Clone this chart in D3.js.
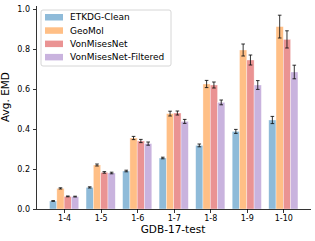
<!DOCTYPE html>
<html lang="en">
<head>
<meta charset="UTF-8">
<title>Avg. EMD</title>
<script src="https://cdnjs.cloudflare.com/ajax/libs/d3/7.8.5/d3.min.js"></script>
<style>
    body {
        margin: 0;
        background: white;
        font-family: "DejaVu Sans", sans-serif;
    }
    .axis path,
    .axis line {
        stroke: #000;
        stroke-width: 0.8px;
        shape-rendering: crispEdges;
    }
    .axis text {
        font-size: 8px;
        font-family: "DejaVu Sans", sans-serif;
        fill: #000;
    }
</style>
</head>
<body>
<script>
    // data
    var groups = ["1-4", "1-5", "1-6", "1-7", "1-8", "1-9", "1-10"];
    var methods = ["ETKDG-Clean", "GeoMol", "VonMisesNet", "VonMisesNet-Filtered"];
    var colors = ["#8fbbd9", "#ffbf86", "#ea9393", "#c9b3de"];

    var etkdg = [0.040, 0.108, 0.190, 0.255, 0.318, 0.388, 0.445];
    var geomol = [0.103, 0.220, 0.355, 0.477, 0.625, 0.795, 0.912];
    var vonmises = [0.063, 0.183, 0.340, 0.480, 0.620, 0.745, 0.848];
    var filtered = [0.062, 0.180, 0.327, 0.438, 0.533, 0.620, 0.685];

    var etkdgErr = [0.002, 0.003, 0.004, 0.004, 0.007, 0.010, 0.018];
    var geomolErr = [0.003, 0.005, 0.008, 0.012, 0.018, 0.030, 0.057];
    var vonmisesErr = [0.002, 0.004, 0.008, 0.010, 0.015, 0.025, 0.043];
    var filteredErr = [0.002, 0.004, 0.008, 0.010, 0.012, 0.022, 0.034];

    var yTicks = [0.0, 0.2, 0.4, 0.6, 0.8, 1.0];

    var series = [etkdg, geomol, vonmises, filtered];
    var errs = [etkdgErr, geomolErr, vonmisesErr, filteredErr];

    var W = 315, H = 241;
    var margin = {top: 5, right: 5, bottom: 32, left: 36};
    var width = W - margin.left - margin.right,
        height = H - margin.top - margin.bottom;

    var x = d3.scaleLinear().domain([-0.77, 6.73]).range([0, width]);
    var y = d3.scaleLinear().domain([0, 1.02]).range([height, 0]);
    var barW = 0.2;

    var svg = d3.select("body").append("svg")
        .attr("width", W)
        .attr("height", H)
        .append("g")
        .attr("transform", "translate(" + margin.left + "," + margin.top + ")");

    var rows = [];
    series.forEach(function(s, k) {
        s.forEach(function(v, i) {
            rows.push({g: i, k: k, v: v, e: errs[k][i]});
        });
    });

    // bars
    svg.selectAll(".bar")
        .data(rows)
        .enter().append("rect")
        .attr("class", "bar")
        .attr("x", function(d) { return x(d.g + (d.k - 2) * barW); })
        .attr("width", x(barW) - x(0))
        .attr("y", function(d) { return y(d.v); })
        .attr("height", function(d) { return y(0) - y(d.v); })
        .style("fill", function(d) { return colors[d.k]; })
        .style("stroke", "white")
        .style("stroke-opacity", 0.6)
        .style("stroke-width", 0.6);

    // error bars
    var cap = 1.8;
    var eb = svg.selectAll(".err")
        .data(rows)
        .enter().append("g")
        .attr("class", "err")
        .style("stroke", "#111")
        .style("stroke-opacity", 0.85)
        .style("stroke-width", 1);
    function cx(d) { return x(d.g + (d.k - 1.5) * barW); }
    eb.append("line")
        .attr("x1", cx).attr("x2", cx)
        .attr("y1", function(d) { return y(d.v - d.e); })
        .attr("y2", function(d) { return y(d.v + d.e); });
    eb.append("line")
        .attr("x1", function(d) { return cx(d) - cap; })
        .attr("x2", function(d) { return cx(d) + cap; })
        .attr("y1", function(d) { return y(d.v + d.e); })
        .attr("y2", function(d) { return y(d.v + d.e); });
    eb.append("line")
        .attr("x1", function(d) { return cx(d) - cap; })
        .attr("x2", function(d) { return cx(d) + cap; })
        .attr("y1", function(d) { return y(d.v - d.e); })
        .attr("y2", function(d) { return y(d.v - d.e); });

    // axes
    var xAxis = d3.axisBottom(x)
        .tickValues(d3.range(groups.length))
        .tickFormat(function(i) { return groups[i]; })
        .tickSize(3.5).tickPadding(2.5).tickSizeOuter(0);
    var yAxis = d3.axisLeft(y)
        .tickValues(yTicks)
        .tickFormat(d3.format(".1f"))
        .tickSize(3.5).tickPadding(2.5).tickSizeOuter(0);

    svg.append("g")
        .attr("class", "x axis")
        .attr("transform", "translate(0," + height + ")")
        .call(xAxis);
    svg.append("g")
        .attr("class", "y axis")
        .call(yAxis);

    svg.append("text")
        .attr("x", width / 2)
        .attr("y", height + 24)
        .attr("text-anchor", "middle")
        .style("font-size", "10.5px")
        .text("GDB-17-test");

    svg.append("text")
        .attr("transform", "rotate(-90)")
        .attr("x", -92)
        .attr("y", -27)
        .attr("text-anchor", "middle")
        .style("font-size", "10.5px")
        .text("Avg. EMD");

    // legend
    var lg = svg.append("g").attr("transform", "translate(5,5)");
    lg.append("rect")
        .attr("width", 130)
        .attr("height", 56)
        .attr("rx", 2)
        .style("fill", "white")
        .style("fill-opacity", 0.8)
        .style("stroke", "#ccc")
        .style("stroke-width", 0.8);
    var item = lg.selectAll(".legend")
        .data(methods)
        .enter().append("g")
        .attr("class", "legend")
        .attr("transform", function(d, i) { return "translate(4," + (4 + i * 13.3) + ")"; });
    item.append("rect")
        .attr("width", 18)
        .attr("height", 6.5)
        .style("fill", function(d, i) { return colors[i]; });
    item.append("text")
        .attr("x", 25)
        .attr("y", 3.3)
        .attr("dy", ".35em")
        .style("font-size", "9px")
        .text(function(d) { return d; });
</script>
</body>
</html>
